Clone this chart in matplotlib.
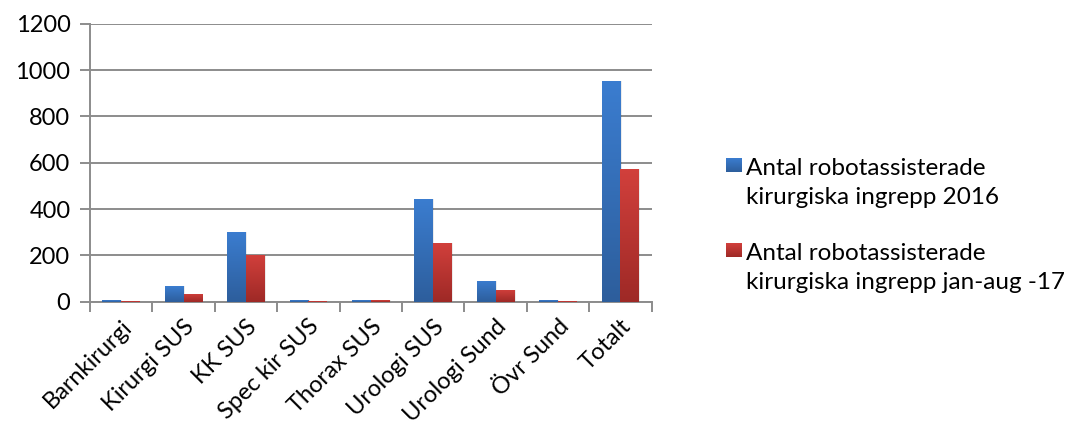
import numpy as np
import matplotlib.pyplot as plt
from matplotlib.patches import Rectangle
from matplotlib.colors import LinearSegmentedColormap

plt.rcParams['font.family'] = ['Lato', 'DejaVu Sans']

# Data
categories = ['Barnkirurgi', 'Kirurgi SUS', 'KK SUS', 'Spec kir SUS', 'Thorax SUS',
              'Urologi SUS', 'Urologi Sund', 'Övr Sund', 'Totalt']
ingrepp_2016 = [6, 69, 302, 6, 6, 445, 91, 6, 954]
ingrepp_2017 = [2, 35, 203, 2, 6, 255, 52, 2, 574]
series_labels = ['Antal robotassisterade\nkirurgiska ingrepp 2016',
                 'Antal robotassisterade\nkirurgiska ingrepp jan-aug -17']

blue_cmap = LinearSegmentedColormap.from_list('blue', ['#2D5E9C', '#3B7DD0'])
red_cmap = LinearSegmentedColormap.from_list('red', ['#9E2926', '#D2403C'])

fig = plt.figure(figsize=(10.7, 4.3), dpi=100)
ax = fig.add_axes([0.084, 0.298, 0.525, 0.647])

x = np.arange(len(categories))
w = 0.3
grad = np.linspace(0, 1, 256).reshape(-1, 1)

def gradient_bars(xs, vals, cmap):
    bars = ax.bar(xs, vals, w, color=cmap(0.5), edgecolor='none', zorder=3)
    for b in bars:
        bx, by = b.get_x(), b.get_y()
        bw, bh = b.get_width(), b.get_height()
        # soft shadow on the right
        ax.add_patch(Rectangle((bx + bw, by), 0.02, bh, color='#000000',
                               alpha=0.08, zorder=2, lw=0))
        im = ax.imshow(grad, cmap=cmap, aspect='auto', origin='lower',
                       extent=(bx, bx + bw, by, by + bh), zorder=3)
        im.set_clip_path(b)
    return bars

gradient_bars(x - w / 2, ingrepp_2016, blue_cmap)
gradient_bars(x + w / 2, ingrepp_2017, red_cmap)

ax.set_xlim(-0.5, len(categories) - 0.5)
ax.set_ylim(0, 1200)
ax.set_yticks(range(0, 1201, 200))
ax.yaxis.grid(True, color='#8C8C8C', lw=1.4, zorder=1)
ax.set_axisbelow(True)

for s in ['top', 'right']:
    ax.spines[s].set_visible(False)
for s in ['left', 'bottom']:
    ax.spines[s].set_color('#8C8C8C')
    ax.spines[s].set_linewidth(1.4)

# category boundaries as tick marks, labels centred on the bars
ax.set_xticks(np.arange(len(categories) + 1) - 0.5)
ax.set_xticklabels([])
ax.set_xticks(x, minor=True)
ax.set_xticklabels(categories, minor=True, rotation=45, ha='right',
                   rotation_mode='anchor', fontsize=17)
ax.tick_params(axis='x', which='minor', length=0, pad=10)
ax.tick_params(axis='x', which='major', length=7, width=1.4, color='#8C8C8C')
ax.tick_params(axis='y', length=7, width=1.4, color='#8C8C8C', labelsize=17, pad=7)

# legend
lax = fig.add_axes([0, 0, 1, 1], facecolor='none')
lax.axis('off')
for (y0, cmap, lbl) in [(165, blue_cmap, series_labels[0]),
                        (250, red_cmap, series_labels[1])]:
    lax.imshow(grad, cmap=cmap, aspect='auto', origin='lower',
               extent=(726, 742, y0 + 7, y0 - 7))
    lax.text(746, y0 + 10, lbl.split('\n')[0], fontsize=17.5, va='baseline', ha='left')
    lax.text(746, y0 + 39, lbl.split('\n')[1], fontsize=17.5, va='baseline', ha='left')
lax.set_xlim(0, 1070)
lax.set_ylim(430, 0)

fig.savefig('out.png', dpi=100)
